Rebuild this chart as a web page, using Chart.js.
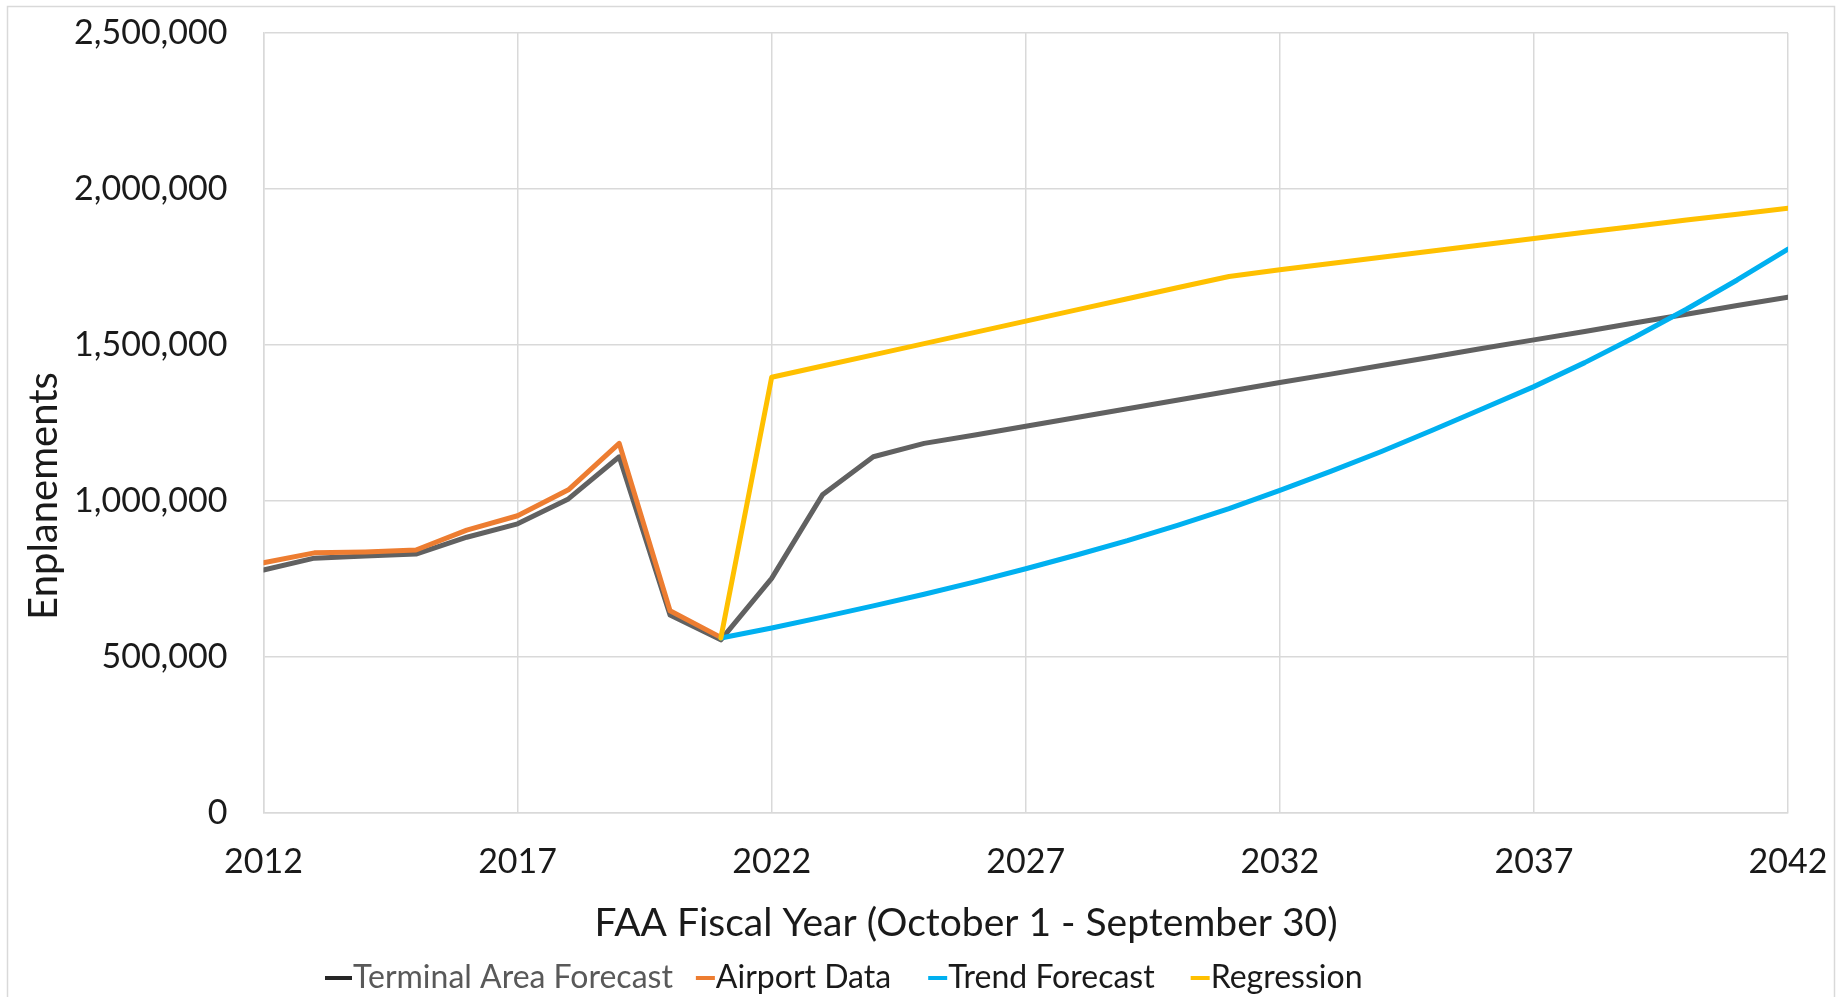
<!DOCTYPE html>
<html>
<head>
<meta charset="utf-8">
<title>Enplanements Forecast</title>
<script src="https://cdn.jsdelivr.net/npm/chart.js@4.4.1/dist/chart.umd.min.js"></script>
<style>
  html, body { margin: 0; padding: 0; background: #ffffff; }
  #wrap { width: 1836px; height: 997px; }
  canvas { display: block; }
</style>
</head>
<body>
<div id="wrap"><canvas id="chart" width="1836" height="997"></canvas></div>
<script>
// FAA fiscal years on the x axis
const years = [2012, 2013, 2014, 2015, 2016, 2017, 2018, 2019, 2020, 2021,
  2022, 2023, 2024, 2025, 2026, 2027, 2028, 2029, 2030, 2031,
  2032, 2033, 2034, 2035, 2036, 2037, 2038, 2039, 2040, 2041, 2042];

// Enplanements per series (null = no value for that year)
const terminalAreaForecast = [778000, 816000, 823000, 829000, 883000, 926000, 1006000, 1141000, 634000, 554000,
  751000, 1019000, 1141000, 1184000, 1211000, 1239000, 1267000, 1295000, 1323000, 1351000,
  1379000, 1406000, 1434000, 1461000, 1489000, 1516000, 1543000, 1571000, 1598000, 1626000, 1653000];

const airportData = [801000, 833000, 836000, 842000, 906000, 952000, 1035000, 1184000, 647000, 562000,
  null, null, null, null, null, null, null, null, null, null,
  null, null, null, null, null, null, null, null, null, null, null];

const trendForecast = [null, null, null, null, null, null, null, null, null, 560000,
  592000, 627000, 663000, 700000, 740000, 782000, 826000, 872000, 922000, 975000,
  1033000, 1094000, 1158000, 1226000, 1296000, 1366000, 1443000, 1526000, 1614000, 1708000, 1807000];

const regression = [null, null, null, null, null, null, null, null, null, 560000,
  1396000, 1432000, 1468000, 1504000, 1540000, 1576000, 1612000, 1648000, 1684000, 1719000,
  1741000, 1761000, 1781000, 1801000, 1821000, 1841000, 1861000, 1880000, 1900000, 1919000, 1938000];

// Axis tick settings
const xTickYears = { min: 2012, max: 2042, step: 5 };
const yTickValues = { min: 0, max: 2500000, step: 500000 };

// Series names
const seriesNames = ['Terminal Area Forecast', 'Airport Data', 'Trend Forecast', 'Regression'];

// ---- styling ----
const FONT = 'Lato, "Open Sans", sans-serif';
const TEXT = '#1a1a1a';
const GRID = '#d9d9d9';
const lineColors = ['#616161', '#ED7D31', '#00B0F0', '#FFC000'];
const legendMarkerColors = ['#262626', '#ED7D31', '#00B0F0', '#FFC000'];
const legendTextColors = ['#595959', '#1a1a1a', '#1a1a1a', '#1a1a1a'];
const legendMarkerWidths = [27, 19, 19, 19];
const legendGaps = [23, 37, 36];

function toPoints(values) {
  return years.map((yr, i) => ({ x: yr, y: values[i] }));
}

const seriesValues = [terminalAreaForecast, airportData, trendForecast, regression];

const datasets = seriesValues.map((vals, i) => ({
  label: seriesNames[i],
  data: toPoints(vals),
  borderColor: lineColors[i],
  backgroundColor: lineColors[i],
  borderWidth: 5,
  pointRadius: 0,
  tension: 0,
  fill: false,
  spanGaps: false,
  borderJoinStyle: 'round',
  borderCapStyle: 'round',
  order: seriesValues.length - i   // later series are painted on top
}));

// Outer chart frame
const framePlugin = {
  id: 'frame',
  beforeDraw(chart) {
    const ctx = chart.ctx;
    ctx.save();
    ctx.fillStyle = '#ffffff';
    ctx.fillRect(0, 0, chart.width, chart.height);
    ctx.strokeStyle = GRID;
    ctx.lineWidth = 1.5;
    ctx.strokeRect(7.5, 6.5, chart.width - 9, chart.height + 20);
    ctx.restore();
  }
};

// Axis titles
const axisTitlePlugin = {
  id: 'axisTitles',
  afterDraw(chart) {
    const ctx = chart.ctx;
    ctx.save();
    ctx.fillStyle = TEXT;
    ctx.textAlign = 'center';
    ctx.textBaseline = 'middle';
    ctx.font = '39px ' + FONT;
    ctx.fillText('FAA Fiscal Year (October 1 - September 30)', 966, 923);
    ctx.font = '40px ' + FONT;
    ctx.translate(44, 496);
    ctx.rotate(-Math.PI / 2);
    ctx.fillText('Enplanements', 0, 0);
    ctx.restore();
  }
};

// Legend row beneath the x-axis title
const legendPlugin = {
  id: 'legendRow',
  afterDraw(chart) {
    const ctx = chart.ctx;
    const fontSize = 32;
    const startX = 325;
    const rowY = 978;
    ctx.save();
    ctx.font = fontSize + 'px ' + FONT;
    ctx.textBaseline = 'middle';
    ctx.textAlign = 'left';
    let x = startX;
    chart.data.datasets.forEach((ds, i) => {
      const mw = legendMarkerWidths[i];
      ctx.strokeStyle = legendMarkerColors[i];
      ctx.lineWidth = 4;
      ctx.lineCap = 'butt';
      ctx.beginPath();
      ctx.moveTo(x, rowY);
      ctx.lineTo(x + mw, rowY);
      ctx.stroke();
      ctx.fillStyle = legendTextColors[i];
      ctx.fillText(ds.label, x + mw + 1, rowY);
      x += mw + 1 + ctx.measureText(ds.label).width + (legendGaps[i] || 0);
    });
    ctx.restore();
  }
};

// Fixed axis sizes; edge label overhang is handled by the layout padding
function fixAxis(size, dim) {
  return scale => {
    scale[dim] = size;
    scale.paddingTop = 0;
    scale.paddingBottom = 0;
    scale.paddingLeft = 0;
    scale.paddingRight = 0;
  };
}

new Chart(document.getElementById('chart'), {
  type: 'line',
  data: { datasets },
  options: {
    responsive: false,
    animation: false,
    devicePixelRatio: 1,
    locale: 'en-US',
    layout: { padding: { left: 7, top: 33, right: 48, bottom: 0 } },
    scales: {
      x: {
        type: 'linear',
        min: xTickYears.min,
        max: xTickYears.max,
        ticks: {
          stepSize: xTickYears.step,
          callback: v => String(v),
          font: { family: FONT, size: 34 },
          color: TEXT,
          padding: 29,
          maxRotation: 0,
          autoSkip: false
        },
        grid: { color: GRID, lineWidth: 1.5, drawTicks: false },
        border: { color: GRID, width: 1.5 },
        afterFit: fixAxis(997 - 812.6, 'height')
      },
      y: {
        min: yTickValues.min,
        max: yTickValues.max,
        ticks: {
          stepSize: yTickValues.step,
          callback: v => Number(v).toLocaleString('en-US'),
          font: { family: FONT, size: 34 },
          color: TEXT,
          padding: 36
        },
        grid: { color: GRID, lineWidth: 1.5, drawTicks: false },
        border: { color: GRID, width: 1.5 },
        afterFit: fixAxis(256.5, 'width')
      }
    },
    plugins: {
      legend: { display: false },
      tooltip: { enabled: false },
      title: { display: false }
    }
  },
  plugins: [framePlugin, axisTitlePlugin, legendPlugin]
});
</script>
</body>
</html>
